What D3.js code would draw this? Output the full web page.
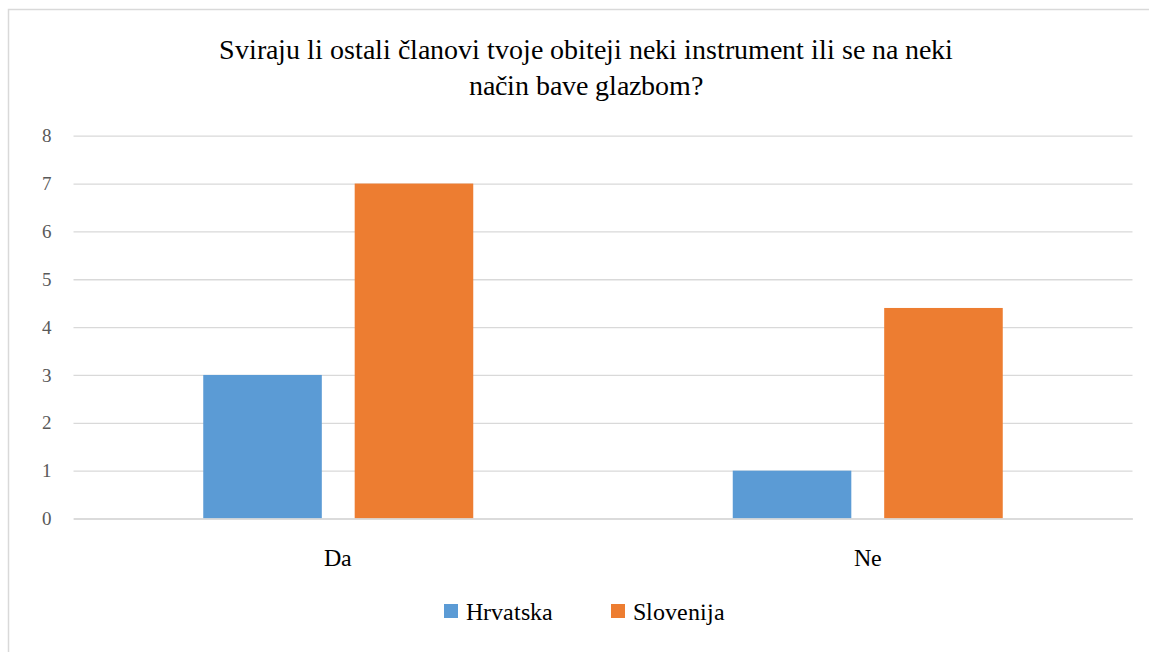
<!DOCTYPE html>
<html><head><meta charset="utf-8">
<script src="https://cdn.jsdelivr.net/npm/d3@7"></script>
<style>
@font-face { font-family: "ChartSerif"; src: local("Liberation Serif"), local("LiberationSerif"), local("Liberation Serif Regular"), local("LiberationSerif-Regular"); }
</style>
</head><body style="margin:0">
<svg id="c" width="1149" height="652"></svg>
<script>
const categories = ["Da", "Ne"];
const seriesNames = ["Hrvatska", "Slovenija"];
const hrvatska = [3, 1];
const slovenija = [7, 4.4];
const yTicks = [0, 1, 2, 3, 4, 5, 6, 7, 8];
const titleLines = ["Sviraju li ostali članovi tvoje obiteji neki instrument ili se na neki", "način bave glazbom?"];
const colors = ["#5B9BD5", "#ED7D31"];

const FF = "ChartSerif, \"Liberation Serif\", Tinos";
const svg = d3.select("#c");
svg.append("rect").attr("x", 8.5).attr("y", 9.5).attr("width", 1160).attr("height", 660)
  .attr("fill", "#fff").attr("stroke", "#d9d9d9").attr("stroke-width", 1.5);

const pL = 73.5, pR = 1132.5, pT = 135.7, pB = 518.5;
const x0 = d3.scaleBand().domain(categories).range([pL, pR]).paddingInner(0).paddingOuter(0);
const groupW = 270;
const x1 = d3.scaleBand().domain(seriesNames).range([0, groupW]).paddingInner(33/152).paddingOuter(0);
const y = d3.scaleLinear().domain([0, 8]).range([pB, pT]);

const gy = svg.append("g").attr("transform", `translate(${pL},0)`)
  .call(d3.axisLeft(y).tickValues(yTicks).tickSize(-(pR - pL)).tickPadding(22));
gy.select(".domain").remove();
gy.attr("font-family", FF);
gy.selectAll(".tick line").attr("stroke", "#d9d9d9").attr("stroke-width", 1.3);
gy.selectAll(".tick text").attr("fill", "#595959").attr("font-family", FF).attr("font-size", 19);

const g = svg.append("g");
categories.forEach((c, i) => {
  const gx0 = x0(c) + (x0.bandwidth() - groupW) / 2;
  [hrvatska[i], slovenija[i]].forEach((v, j) => {
    g.append("rect").attr("x", gx0 + x1(seriesNames[j])).attr("y", y(v))
      .attr("width", x1.bandwidth()).attr("height", y(0) - y(v)).attr("fill", colors[j]);
  });
});

const gx = svg.append("g").attr("transform", `translate(0,${pB})`)
  .call(d3.axisBottom(x0).tickSize(0).tickPadding(30));
gx.attr("font-family", FF);
gx.select(".domain").attr("stroke", "#d9d9d9").attr("stroke-width", 1.3);
gx.selectAll(".tick text").attr("fill", "#000").attr("font-family", FF).attr("font-size", 24);

svg.append("g").selectAll("text").data(titleLines).join("text")
  .attr("x", 586).attr("y", (d, i) => 59 + i * 36).attr("text-anchor", "middle")
  .attr("font-family", FF).attr("font-size", 28).attr("fill", "#000").text(d => d);

const legX = [444, 611];
seriesNames.forEach((s, i) => {
  svg.append("rect").attr("x", legX[i]).attr("y", 604).attr("width", 14).attr("height", 14).attr("fill", colors[i]);
  svg.append("text").attr("x", legX[i] + 22).attr("y", 620)
    .attr("font-family", FF).attr("font-size", 24).attr("fill", "#000").text(s);
});
</script>
</body></html>
